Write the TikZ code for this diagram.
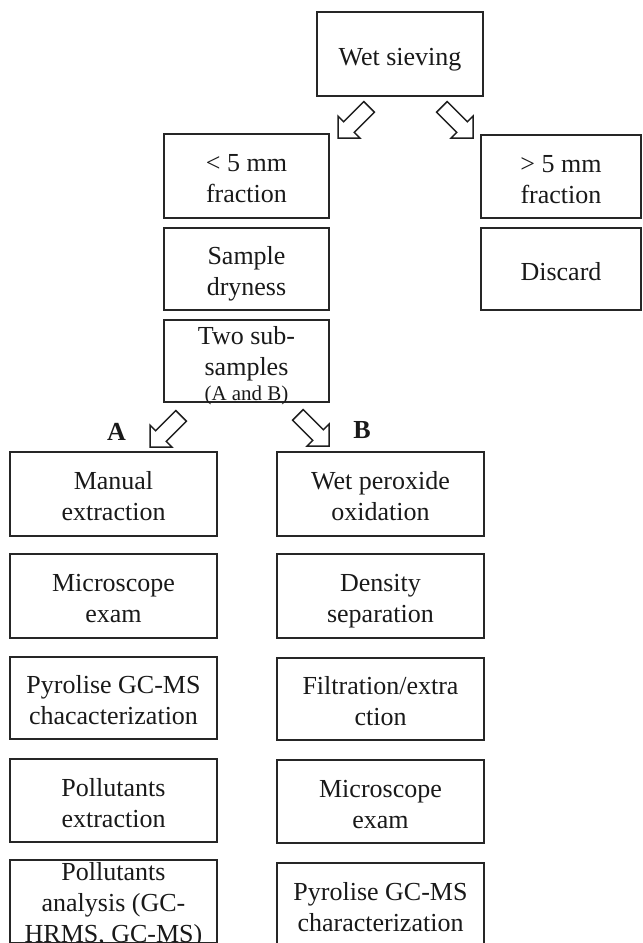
\documentclass[tikz,border=0pt]{standalone}
\usepackage{fontspec}
\setmainfont{Liberation Serif}

% Centred lines with a fixed 31bp baseline distance; the box runs from the
% cap height of the first line to the baseline of the last one, so the
% text is centred optically inside each frame. The optional argument
% lowers the text by that amount without changing the box size.
\newcommand\flowtext[2][0bp]{%
  \setbox0=\vbox{\baselineskip=31bp\lineskiplimit=-\maxdimen\lineskip=0pt
    \halign{\hfil\vrule height 20bp depth 0pt width 0pt##\hfil\cr#2\crcr}}%
  \ht0=\dimexpr\ht0-2.5bp+#1\relax\dp0=-#1\box0}

\tikzset{
  x=1bp, y=-1bp,
  stepbox/.style={draw=black!85, line width=1.7bp, inner sep=0pt,
    text=black!90, font=\fontsize{26bp}{31bp}\selectfont},
  upper/.style={stepbox, minimum width=165bp},
  side/.style={stepbox, minimum width=160bp},
  column/.style={stepbox, minimum width=207bp},
  fatarrow/.style={draw=black!88, line width=1.5bp, fill=white, line join=miter},
  branch/.style={text=black!90, inner sep=0pt, anchor=base,
    font=\fontsize{26bp}{31bp}\selectfont\bfseries}
}

% hollow block arrow: tip at the named coordinate, pointing at the given angle
\newcommand\blockarrow[2]{%
  \draw[fatarrow, shift={(#1)}, rotate=#2]
    (0,0) -- (-15.5,15.5) -- (-15.5,7.5) -- (-44,7.5) -- (-44,-7.5)
    -- (-15.5,-7.5) -- (-15.5,-15.5) -- cycle;}

\begin{document}
\begin{tikzpicture}
\useasboundingbox (0,0) rectangle (643,943);
\clip (0,0) rectangle (643,943);

% top of the scheme
\node[stepbox, minimum width=166bp, minimum height=84bp] (wet) at (400,54)
  {\flowtext{Wet sieving}};

\node[upper, minimum height=84bp] (small) at (246.5,176)
  {\flowtext{< 5 mm\cr fraction}};
\node[upper, minimum height=82bp] (dry) at (246.5,269)
  {\flowtext{Sample\cr dryness}};
\node[upper, minimum height=82bp] (split) at (246.5,361)
  {\flowtext{Two sub-\cr samples\cr\noalign{\vskip-6bp}{\fontsize{21bp}{25bp}\selectfont (A and B)}}};

\node[side, minimum height=83bp] (large) at (561,176.5)
  {\flowtext{> 5 mm\cr fraction}};
\node[side, minimum height=82bp] (discard) at (561,269)
  {\flowtext{Discard}};

% branch A
\node[column, minimum height=84bp] (a1) at (113.5,494)
  {\flowtext{Manual\cr extraction}};
\node[column, minimum height=84bp] (a2) at (113.5,596)
  {\flowtext{Microscope\cr exam}};
\node[column, minimum height=82bp] (a3) at (113.5,698)
  {\flowtext{Pyrolise GC-MS\cr chacacterization}};
\node[column, minimum height=83bp] (a4) at (113.5,800.5)
  {\flowtext{Pollutants\cr extraction}};
\node[column, minimum height=81bp] (a5) at (113.5,901.5)
  {\flowtext[3bp]{Pollutants\cr analysis (GC-\cr HRMS, GC-MS)}};

% branch B
\node[column, minimum height=84bp] (b1) at (380.5,494)
  {\flowtext{Wet peroxide\cr oxidation}};
\node[column, minimum height=84bp] (b2) at (380.5,596)
  {\flowtext{Density\cr separation}};
\node[column, minimum height=82bp] (b3) at (380.5,699)
  {\flowtext{Filtration/extra\cr ction}};
\node[column, minimum height=83bp] (b4) at (380.5,801.5)
  {\flowtext{Microscope\cr exam}};
\node[column, minimum height=84bp] (b5) at (380.5,905)
  {\flowtext{Pyrolise GC-MS\cr characterization}};

% branch labels
\node[branch] (labA) at (116.5,440) {A};
\node[branch] (labB) at (362,438) {B};

% arrow tips
\coordinate (tipSmall) at (338,138);
\coordinate (tipLarge) at (473,138);
\coordinate (tipA) at (150,447);
\coordinate (tipB) at (329,446);

\blockarrow{tipSmall}{225}
\blockarrow{tipLarge}{315}
\blockarrow{tipA}{225}
\blockarrow{tipB}{315}
\end{tikzpicture}
\end{document}
